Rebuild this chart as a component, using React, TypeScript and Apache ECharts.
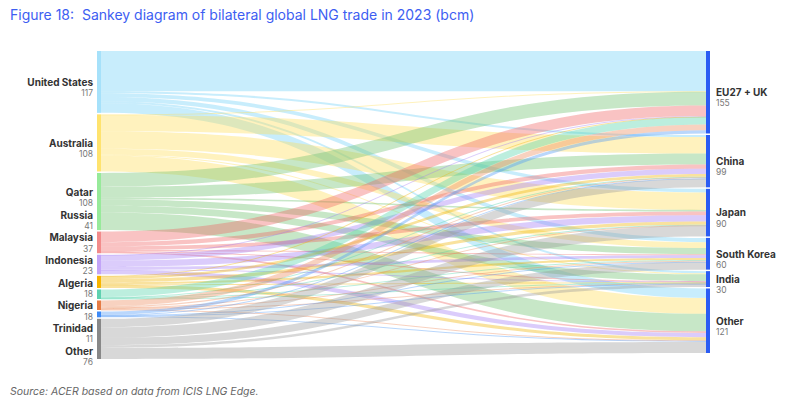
import React, { useEffect, useRef } from "react";
import * as echarts from "echarts";

// Exporters (left) and their totals (bcm)
const exporters = ["United States", "Australia", "Qatar", "Russia", "Malaysia", "Indonesia", "Algeria", "Nigeria", "Trinidad", "Other "];
const exporterTotals = [117, 108, 108, 41, 37, 23, 18, 18, 11, 76];
// Importers (right) and their totals (bcm)
const importers = ["EU27 + UK", "China", "Japan", "South Korea", "India", "Other"];
const importerTotals = [155, 99, 90, 60, 30, 121];

// Flows from each exporter to [EU27+UK, China, Japan, South Korea, India, Other] (bcm)
const usFlows = [76, 4, 7, 8, 4, 18];
const australiaFlows = [1, 31, 33, 11, 2, 30];
const qatarFlows = [26, 21, 3, 12, 13, 33];
const russiaFlows = [20, 8, 7, 2, 1, 3];
const malaysiaFlows = [1, 10, 12, 5, 1, 8];
const indonesiaFlows = [1, 5, 6, 4, 1, 6];
const algeriaFlows = [14, 1, 1, 1, 1, 0];
const nigeriaFlows = [11, 2, 1, 2, 1, 1];
const trinidadFlows = [6, 1, 0, 1, 1, 2];
const otherFlows = [0, 16, 20, 14, 5, 21];

const flowRows = [usFlows, australiaFlows, qatarFlows, russiaFlows, malaysiaFlows, indonesiaFlows, algeriaFlows, nigeriaFlows, trinidadFlows, otherFlows];

const nodeColors = ["#a6e1fa", "#ffe36e", "#97ea9a", "#f28b8b", "#c3a5f8", "#f7b500", "#5fd1b0", "#e57c45", "#3d8af7", "#888888"];
const linkColors = ["#6ecff6", "#ffdc55", "#6cbf6c", "#f06060", "#a07af5", "#f0b400", "#4fd1a8", "#ec8a5a", "#4a95f7", "#999999"];
const importerColor = "#2b5cf3";

const TOP = 51;
const BOTTOM = 42;
const H = 401 - TOP - BOTTOM;
const GAP = 1.5;
const NAME_LH = 12.2;
const VAL_LH = 10.3;

// Reproduce the sankey's stacking to spread the left labels so they do not collide
function leftLabelOffsets(): number[] {
  const leftVals = exporterTotals.map((t, i) => Math.max(t, flowRows[i].reduce((a, b) => a + b, 0)));
  const rightVals = importerTotals.map((t, j) => Math.max(t, flowRows.reduce((a, r) => a + r[j], 0)));
  const sumL = leftVals.reduce((a, b) => a + b, 0);
  const sumR = rightVals.reduce((a, b) => a + b, 0);
  const ky = Math.min((H - (leftVals.length - 1) * GAP) / sumL, (H - (rightVals.length - 1) * GAP) / sumR);
  const centers: number[] = [];
  let y = TOP;
  leftVals.forEach((v) => {
    const h = v * ky;
    centers.push(y + h / 2);
    y += h + GAP;
  });
  const spacing = NAME_LH + VAL_LH + 0.2;
  const want = centers.map((c) => c + 5);
  const pos = want.slice();
  for (let i = 1; i < pos.length; i++) pos[i] = Math.max(pos[i], pos[i - 1] + spacing);
  const maxBottom = 356;
  if (pos[pos.length - 1] > maxBottom) pos[pos.length - 1] = maxBottom;
  for (let i = pos.length - 2; i >= 0; i--) pos[i] = Math.min(pos[i], pos[i + 1] - spacing);
  return pos.map((p, i) => p - centers[i]);
}

export default function App() {
  const ref = useRef<HTMLDivElement>(null);
  useEffect(() => {
    if (!ref.current) return;
    const chart = echarts.init(ref.current, null, { renderer: "svg" });
    const rich = (align: string) => ({
      n: { fontFamily: "Inter", fontWeight: 700, fontSize: 10, color: "#333", lineHeight: NAME_LH, align },
      v: { fontFamily: "Inter", fontSize: 8.5, color: "#777", lineHeight: VAL_LH, align },
    });
    const offs = leftLabelOffsets();
    const nodes: any[] = [];
    exporters.forEach((name, i) => {
      nodes.push({
        name,
        value: exporterTotals[i],
        depth: 0,
        itemStyle: { color: nodeColors[i], borderWidth: 0 },
        label: {
          position: "left",
          distance: 4,
          offset: [0, offs[i]],
          align: "right",
          formatter: `{n|${name.trim()}}\n{v|${exporterTotals[i]}}`,
          rich: rich("right"),
        },
      });
    });
    importers.forEach((name, j) => {
      nodes.push({
        name,
        value: importerTotals[j],
        depth: 1,
        itemStyle: { color: importerColor, borderWidth: 0 },
        label: {
          position: "right",
          distance: 6,
          offset: [0, 5],
          align: "left",
          formatter: `{n|${name}}\n{v|${importerTotals[j]}}`,
          rich: rich("left"),
        },
      });
    });
    const links: any[] = [];
    flowRows.forEach((row, i) => {
      row.forEach((v, j) => {
        if (v > 0) {
          links.push({
            source: exporters[i],
            target: importers[j],
            value: v,
            lineStyle: { color: linkColors[i] },
          });
        }
      });
    });
    chart.setOption({
      animation: false,
      title: [
        {
          text: "Figure 18:\u00a0\u00a0Sankey diagram of bilateral global LNG trade in 2023 (bcm)",
          left: 5,
          top: 2,
          textStyle: { fontFamily: "Inter", fontWeight: 400, fontSize: 14, color: "#3d5ef2" },
        },
        {
          text: "Source: ACER based on data from ICIS LNG Edge.",
          left: 5,
          top: 381,
          textStyle: { fontFamily: "Inter", fontWeight: 400, fontStyle: "italic", fontSize: 10.5, color: "#666" },
        },
      ],
      series: [
        {
          type: "sankey",
          left: 97,
          right: 87,
          top: TOP,
          bottom: BOTTOM,
          nodeWidth: 4,
          nodeGap: GAP,
          layoutIterations: 0,
          draggable: false,
          nodeAlign: "justify",
          emphasis: { disabled: true },
          lineStyle: { opacity: 0.38, curveness: 0.5 },
          data: nodes,
          links,
        },
      ],
    });
    return () => chart.dispose();
  }, []);
  return <div ref={ref} style={{ position: "fixed", left: 0, top: 0, width: 797, height: 401, background: "#fff" }} />;
}
